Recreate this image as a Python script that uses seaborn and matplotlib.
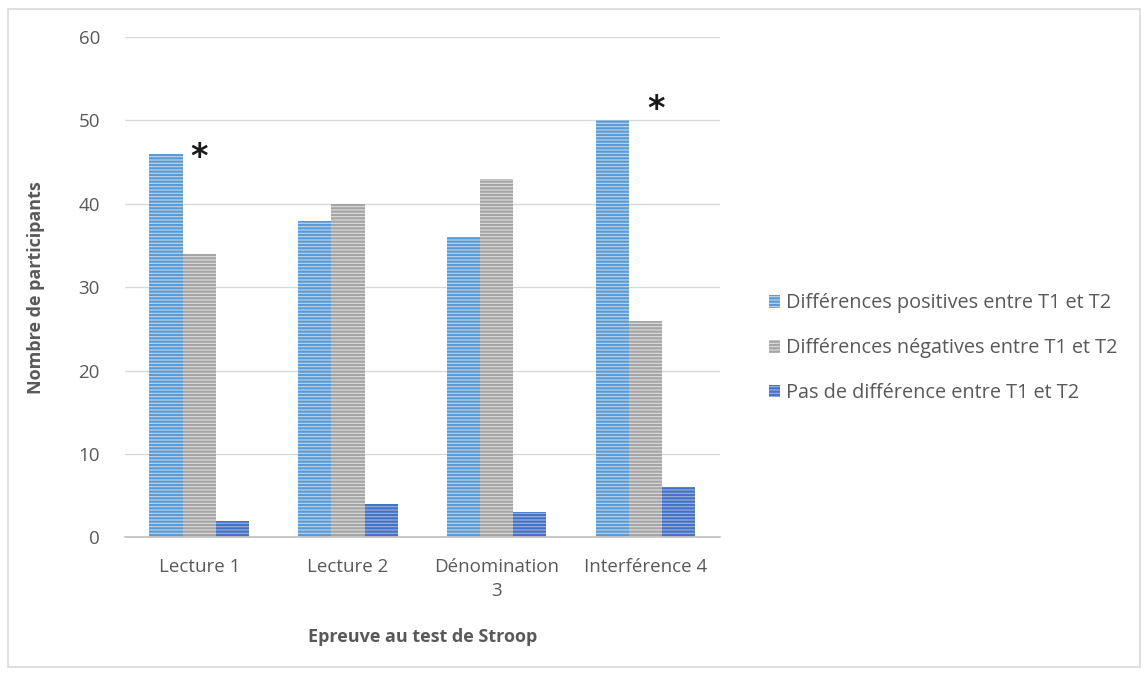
import numpy as np
import pandas as pd
import matplotlib
matplotlib.use("Agg")
import matplotlib.pyplot as plt
import seaborn as sns
from matplotlib.patches import Rectangle

categories = ["Lecture 1", "Lecture 2", "Dénomination\n3", "Interférence 4"]
series = ["Différences positives entre T1 et T2",
          "Différences négatives entre T1 et T2",
          "Pas de différence entre T1 et T2"]
positives = [46, 38, 36, 50]
negatives = [34, 40, 43, 26]
no_diff = [2, 4, 3, 6]
# asterisks: (category index, x offset, y level)
stars = [(0, 0.0, 45.6), (3, 0.07, 51.3)]

colors = ["#5B9BD5", "#A5A5A5", "#4472C4"]
light = ["#BDD7EE", "#DEDEDE", "#9DB3E0"]

df = pd.DataFrame({
    "cat": categories * 3,
    "serie": [series[0]] * 4 + [series[1]] * 4 + [series[2]] * 4,
    "val": positives + negatives + no_diff,
})

sns.set_style("white")
plt.rcParams['font.family'] = ['Open Sans', 'DejaVu Sans']
plt.rcParams['hatch.linewidth'] = 1.6

fig = plt.figure(figsize=(11.46, 6.75), dpi=100)
ax = fig.add_axes([0.109, 0.204, 0.519, 0.741])

sns.barplot(data=df, x="cat", y="val", hue="serie", order=categories,
            hue_order=series, palette=colors, width=0.67, ax=ax,
            saturation=1, legend=False)

for i, cont in enumerate(ax.containers):
    for bar in cont:
        bar.set_facecolor(light[i])
        bar.set_edgecolor(colors[i])
        bar.set_hatch("-----")
        bar.set_linewidth(0)

for i, dx, y in stars:
    ax.text(i + dx, y, "*", ha="center", va="center", fontsize=24,
            fontweight="bold", color="#1a1a1a", family="DejaVu Sans")

ax.set_ylim(0, 60)
ax.set_yticks(range(0, 61, 10))
ax.yaxis.grid(True, color="#D9D9D9", linewidth=1)
ax.set_axisbelow(True)
for s in ["top", "right", "left"]:
    ax.spines[s].set_visible(False)
ax.spines["bottom"].set_color("#BFBFBF")
ax.spines["bottom"].set_linewidth(1.2)
ax.tick_params(axis="y", length=0, labelsize=13.5, labelcolor="#595959", pad=18)
ax.tick_params(axis="x", length=0, labelsize=13.5, labelcolor="#595959", pad=15)
for lbl in ax.get_xticklabels():
    lbl.set_linespacing(1.45)

ax.set_xlabel("Epreuve au test de Stroop", fontsize=13, fontweight="bold",
              color="#595959", labelpad=20)
ax.set_ylabel("Nombre de participants", fontsize=13, fontweight="bold",
              color="#595959", labelpad=24)

handles = [Rectangle((0, 0), 1, 1, facecolor=light[i], edgecolor=colors[i],
                     hatch="-----", linewidth=0) for i in range(3)]
fig.legend(handles, series, loc="center left", bbox_to_anchor=(0.655, 0.484),
           frameon=False, fontsize=14.3, labelcolor="#595959",
           handlelength=0.6, handleheight=0.6, handletextpad=0.3,
           labelspacing=1.25)

fig.patches.append(Rectangle((0.007, 0.012), 0.988, 0.975, transform=fig.transFigure,
                             fill=False, edgecolor="#D9D9D9", linewidth=1.2))

fig.savefig("out.png", dpi=100)
